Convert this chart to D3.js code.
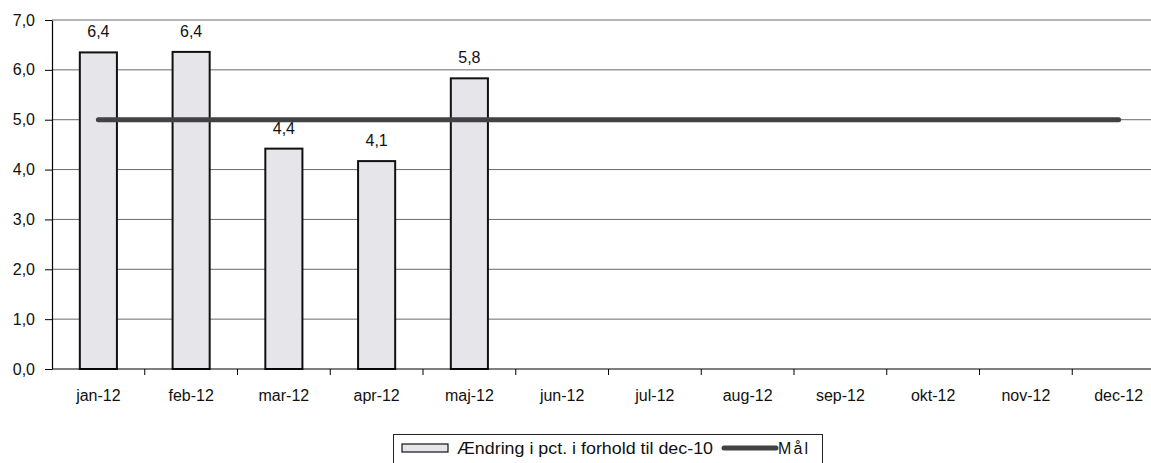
<!DOCTYPE html>
<html><head><meta charset="utf-8">
<script src="https://cdn.jsdelivr.net/npm/d3@7"></script>
<style>body{margin:0;background:#fff;}svg{display:block;font-family:"Liberation Sans",Arial,sans-serif;}</style>
</head><body><svg id="c" width="1151" height="463"></svg>
<script>
const categories = ["jan-12","feb-12","mar-12","apr-12","maj-12","jun-12","jul-12","aug-12","sep-12","okt-12","nov-12","dec-12"];
const changeValues = [6.35, 6.36, 4.42, 4.17, 5.83, null, null, null, null, null, null, null];
const changeLabels = ["6,4","6,4","4,4","4,1","5,8"];
const targetValues = [5,5,5,5,5,5,5,5,5,5,5,5];
const yTicks = [0,1,2,3,4,5,6,7];
const legendNames = ["Ændring i pct. i forhold til dec-10", "Mål"];

const svg = d3.select("#c");
const x = d3.scaleBand().domain(categories).range([52, 1165]).paddingInner(0.6).paddingOuter(0.3);
const y = d3.scaleLinear().domain([0,7]).range([369, 20]);
const fmt = d => d.toFixed(1).replace(".", ",");
const FS = 16;

// gridlines
svg.append("g").selectAll("line").data(yTicks.filter(d=>d>0)).join("line")
  .attr("x1", 52).attr("x2", 1151).attr("y1", d=>y(d)).attr("y2", d=>y(d))
  .attr("stroke", "#444").attr("stroke-width", 0.8);

// y axis
const ya = svg.append("g").attr("transform","translate(52,0)")
  .call(d3.axisLeft(y).tickValues(yTicks).tickFormat(fmt).tickSize(7).tickPadding(10).tickSizeOuter(0));
ya.select(".domain").attr("stroke","#000").attr("stroke-width",1.2);
ya.selectAll("line").attr("stroke","#000");
ya.selectAll("text").attr("font-size",FS).attr("fill","#111").attr("font-family","Liberation Sans, Arial, sans-serif");

// bars
const bw = x.bandwidth();
const barData = categories.map((c,i)=>({c, v: changeValues[i], l: changeLabels[i]})).filter(d=>d.v!=null);
svg.append("g").selectAll("rect").data(barData).join("rect")
  .attr("x", d=>x(d.c)).attr("width", bw)
  .attr("y", d=>y(d.v)).attr("height", d=>y(0)-y(d.v))
  .attr("fill","#e6e6ea").attr("stroke","#111").attr("stroke-width",2);
svg.append("g").selectAll("text").data(barData).join("text")
  .attr("x", d=>x(d.c)+bw/2).attr("y", d=>y(d.v)-15)
  .attr("text-anchor","middle").attr("font-size",FS).attr("fill","#111").text(d=>d.l);

// x axis
const step = x.step();
const xa = svg.append("g").attr("transform","translate(0,"+y(0)+")");
xa.append("line").attr("x1",52).attr("x2",1151).attr("stroke","#000").attr("stroke-width",1.2);
xa.selectAll("line.t").data(categories.slice(0,-1)).join("line").attr("class","t")
  .attr("x1", d=>x(d)+bw/2+step/2).attr("x2", d=>x(d)+bw/2+step/2).attr("y1",0).attr("y2",6)
  .attr("stroke","#000");
xa.selectAll("text").data(categories).join("text")
  .attr("x", d=>x(d)+bw/2).attr("y", 32).attr("text-anchor","middle")
  .attr("font-size",FS).attr("fill","#111").text(d=>d);

// target line
const line = d3.line().x((d,i)=>x(categories[i])+bw/2).y(d=>y(d));
svg.append("path").datum(targetValues).attr("d", line)
  .attr("fill","none").attr("stroke","#404244").attr("stroke-width",5).attr("stroke-linecap","round");

// legend
const lg = svg.append("g");
lg.append("rect").attr("x",393.5).attr("y",434.5).attr("width",429).attr("height",30)
  .attr("fill","#fff").attr("stroke","#222").attr("stroke-width",1);
lg.append("rect").attr("x",402).attr("y",444).attr("width",46).attr("height",8)
  .attr("fill","#e6e6ea").attr("stroke","#111").attr("stroke-width",1.2);
lg.append("text").attr("x",457).attr("y",454).attr("font-size",FS).attr("fill","#111")
  .attr("textLength",256).attr("lengthAdjust","spacingAndGlyphs").text(legendNames[0]);
lg.append("line").attr("x1",724).attr("x2",776).attr("y1",448).attr("y2",448)
  .attr("stroke","#404244").attr("stroke-width",5).attr("stroke-linecap","round");
lg.append("text").attr("x",778).attr("y",454).attr("font-size",FS).attr("fill","#111")
  .attr("textLength",30).attr("lengthAdjust","spacing").text(legendNames[1]);
</script></body></html>
